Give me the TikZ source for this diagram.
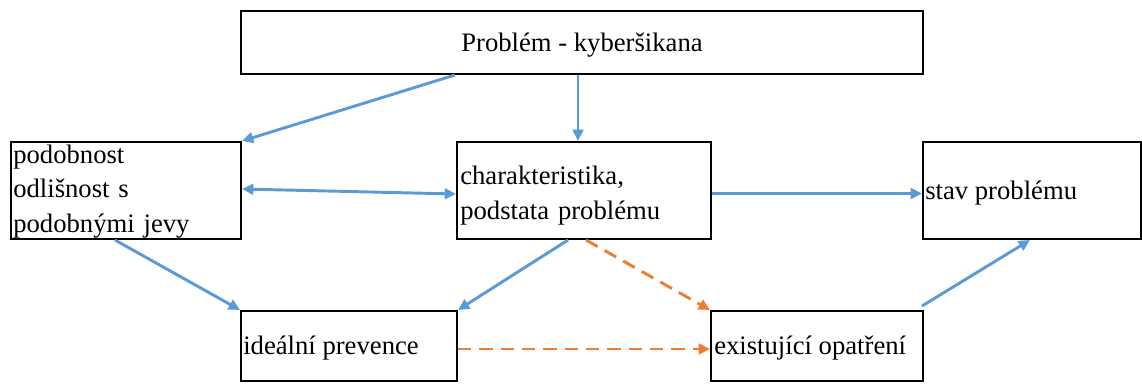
\documentclass[tikz,border=0pt]{standalone}
\usepackage{fontspec}
\setmainfont{Liberation Serif}
\usetikzlibrary{arrows.meta,calc}
\definecolor{ablue}{HTML}{5B9BD5}
\definecolor{aorange}{HTML}{ED7D31}
\begin{document}
\begin{tikzpicture}[x=0.75pt,y=-0.75pt,
  box/.style={draw,line width=1.5pt,rectangle,inner sep=0pt,anchor=north west},
  txt/.style={inner sep=0pt,font=\fontsize{20}{26}\selectfont,align=left},
  mtxt/.style={txt,text width=180pt},
  barrow/.style={draw=ablue,line width=2.2pt,-{Triangle[length=8.5pt,width=8pt]}},
  bdarrow/.style={draw=ablue,line width=2.2pt,{Triangle[length=8.5pt,width=8pt]}-{Triangle[length=8.5pt,width=8pt]}},
  oarrow/.style={draw=aorange,line width=2.2pt,dash pattern=on 10pt off 6pt,-{Triangle[length=8.5pt,width=8pt]}}]
\useasboundingbox (0,0) rectangle (1142,383);
% boxes
\node[box,minimum width=511.5pt,minimum height=47.25pt] (top) at (240,10) {};
\node[box,minimum width=172.5pt,minimum height=72.75pt] (left) at (10,141) {};
\node[box,minimum width=190.5pt,minimum height=72.75pt] (mid) at (456,141) {};
\node[box,minimum width=163.5pt,minimum height=72.75pt] (right) at (922,141) {};
\node[box,minimum width=162pt,minimum height=52.5pt] (bl) at (240,310) {};
\node[box,minimum width=159pt,minimum height=52.5pt] (br) at (710,310) {};
% texts
\node[txt,anchor=base] (topt) at ($(top.north)+(0,41)$) {Problém - kyberšikana};
\node[mtxt,anchor=west] (leftt) at ($(left.west)+(3,1)$) {podobnost\\odlišnost s\\podobnými jevy};
\node[mtxt,anchor=west] (midt) at ($(mid.west)+(4,5)$) {charakteristika,\\podstata problému};
\node[txt,anchor=base west] (rightt) at ($(right.north west)+(3,58)$) {stav problému};
\node[txt,anchor=base west] (blt) at ($(bl.north west)+(3,44.5)$) {ideální prevence};
\node[txt,anchor=base west] (brt) at ($(br.north west)+(4,44.5)$) {existující opatření};
% connectors
\draw[barrow] ($(top.south west)+(215,0)$) -- (left.north east);
\draw[barrow] ($(top.south west)+(338,0)$) -- ($(mid.north west)+(122,0)$);
\draw[bdarrow] ($(left.east)+(0,-1.5)$) -- ($(mid.west)+(0,3.5)$);
\draw[barrow] ($(mid.east)+(0,3)$) -- ($(right.west)+(0,3)$);
\draw[barrow] ($(left.south west)+(105,0)$) -- (bl.north west);
\draw[barrow] ($(mid.south west)+(112,0)$) -- (bl.north east);
\draw[oarrow] ($(mid.south west)+(130,0)$) -- (br.north west);
\draw[oarrow] ($(bl.east)+(0,3)$) -- ($(br.west)+(0,3)$);
\draw[barrow] ($(br.north east)+(-2,-4)$) -- ($(right.south west)+(108,0)$);
\end{tikzpicture}
\end{document}
